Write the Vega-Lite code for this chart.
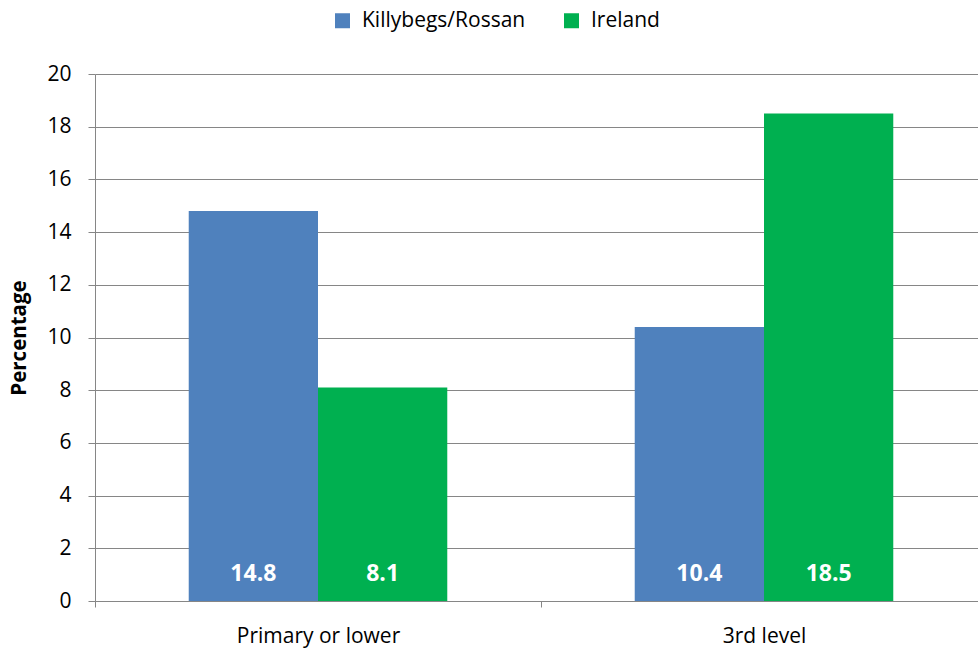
{
  "$schema": "https://vega.github.io/schema/vega-lite/v6.json",
  "autosize": {"type": "none"},
  "width": 892,
  "height": 527,
  "padding": {"left": 95, "top": 74, "right": 0, "bottom": 49},
  "background": "white",
  "config": {
    "view": {"stroke": null},
    "font": "Open Sans",
    "axis": {"labelFont": "Open Sans", "titleFont": "Open Sans", "labelColor": "#000", "titleColor": "#000"},
    "legend": {"labelFont": "Open Sans"}
  },
  "data": {
    "values": [
      {"level": "Primary or lower", "area": "Killybegs/Rossan", "pct": 14.8},
      {"level": "Primary or lower", "area": "Ireland", "pct": 8.1},
      {"level": "3rd level", "area": "Killybegs/Rossan", "pct": 10.4},
      {"level": "3rd level", "area": "Ireland", "pct": 18.5}
    ]
  },
  "encoding": {
    "x": {
      "field": "level", "type": "nominal", "sort": ["Primary or lower", "3rd level"],
      "scale": {"paddingInner": 0, "paddingOuter": 0},
      "axis": {"title": null, "labelAngle": 0, "labelFontSize": 21, "labelPadding": 18, "domainColor": "#868686", "tickColor": "#868686", "tickBand": "extent", "tickSize": 6, "grid": false}
    },
    "xOffset": {"field": "area", "type": "nominal", "sort": ["Killybegs/Rossan", "Ireland"], "scale": {"paddingInner": 0, "paddingOuter": 0.725}}
  },
  "layer": [
    {
      "mark": {"type": "bar"},
      "encoding": {
        "y": {
          "field": "pct", "type": "quantitative",
          "scale": {"domain": [0, 20], "nice": false},
          "axis": {"title": "Percentage", "titleFontSize": 20.5, "titleFontWeight": "bold", "titlePadding": 17, "labelFontSize": 21, "labelPadding": 17, "labelOverlap": false, "values": [0,2,4,6,8,10,12,14,16,18,20], "gridColor": "#868686", "domainColor": "#868686", "tickColor": "#868686", "tickSize": 7}
        },
        "color": {
          "field": "area", "type": "nominal", "sort": ["Killybegs/Rossan", "Ireland"],
          "scale": {"domain": ["Killybegs/Rossan", "Ireland"], "range": ["#4F81BD", "#00B050"]},
          "legend": {"title": null, "orient": "none", "direction": "horizontal", "legendX": 237, "legendY": -64, "symbolType": "square", "symbolSize": 225, "symbolStrokeWidth": 0, "labelFontSize": 21, "labelLimit": 400, "columnPadding": 35, "symbolOffset": 0, "labelOffset": 9}
        }
      }
    },
    {
      "mark": {"type": "text", "color": "white", "fontWeight": "bold", "fontSize": 23, "baseline": "middle", "dy": -27},
      "encoding": {
        "y": {
          "datum": 0, "type": "quantitative",
          "scale": {"domain": [0, 20], "nice": false},
          "axis": {"title": "Percentage", "titleFontSize": 20.5, "titleFontWeight": "bold", "titlePadding": 17, "labelFontSize": 21, "labelPadding": 17, "labelOverlap": false, "values": [0,2,4,6,8,10,12,14,16,18,20], "gridColor": "#868686", "domainColor": "#868686", "tickColor": "#868686", "tickSize": 7}
        },
        "text": {"field": "pct", "type": "quantitative", "format": ".1f"}
      }
    }
  ]
}
